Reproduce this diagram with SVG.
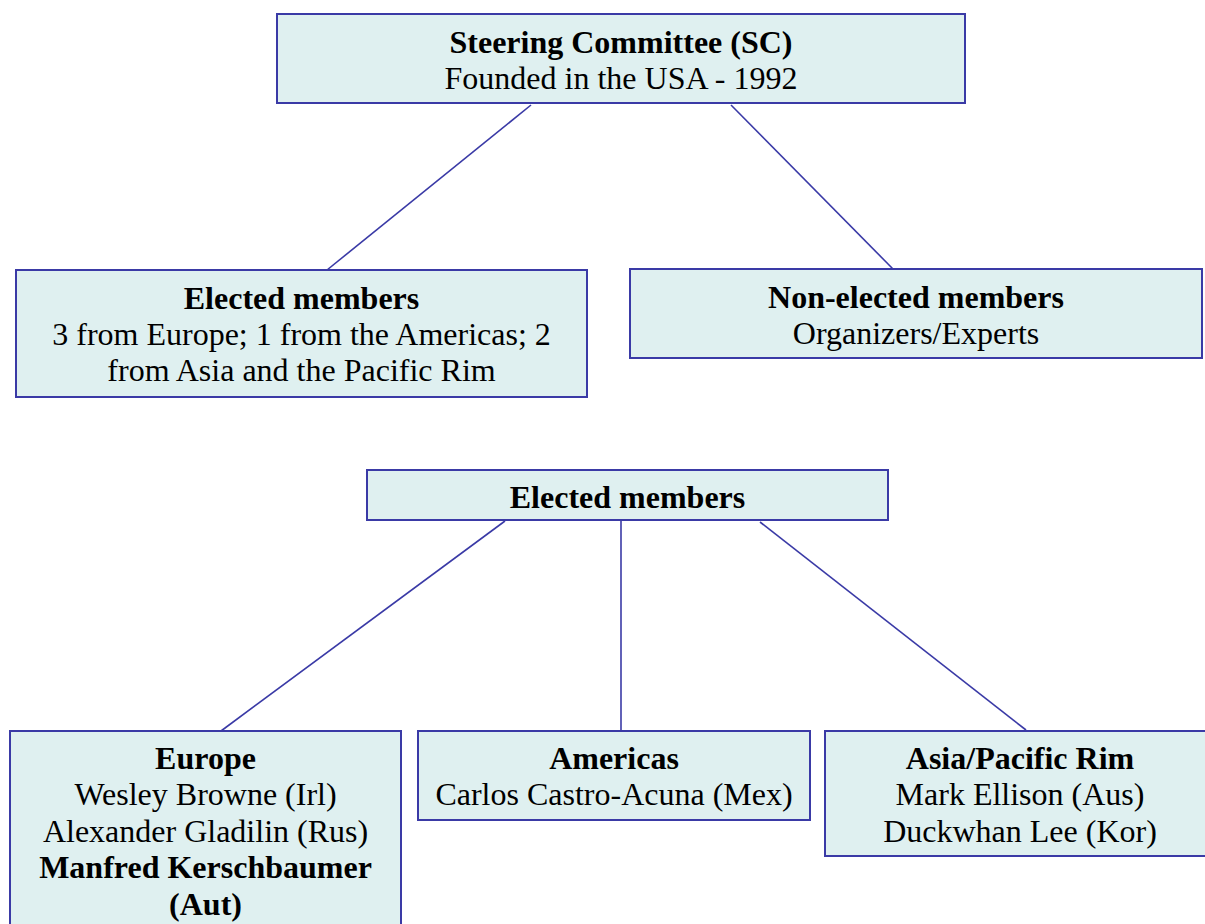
<svg xmlns="http://www.w3.org/2000/svg" width="1205" height="924" viewBox="0 0 1205 924">
<style>
.box{fill:#dff0f0;stroke:#3a3aa6;stroke-width:2}
.ln{stroke:#3a3aa6;stroke-width:1.6;fill:none}
text{font-family:"Liberation Serif","Times New Roman",serif;font-size:32px;fill:#000;text-anchor:middle}
.b{font-weight:bold}
</style>
<rect width="1205" height="924" fill="#fff"/>
<g id="connectors">
<line class="ln" x1="531" y1="105" x2="327" y2="270"/>
<line class="ln" x1="731" y1="105" x2="893" y2="269"/>
<line class="ln" x1="505" y1="521" x2="221" y2="731"/>
<line class="ln" x1="621" y1="521" x2="621" y2="731"/>
<line class="ln" x1="760" y1="522" x2="1026" y2="730"/>
</g>
<g id="sc">
<rect class="box" x="277" y="14" width="688" height="89"/>
<text x="621" y="53" class="b">Steering Committee (SC)</text>
<text x="621" y="89">Founded in the USA - 1992</text>
</g>
<g id="elected">
<rect class="box" x="16" y="270" width="571" height="127"/>
<text x="301.5" y="309" class="b">Elected members</text>
<text x="301.5" y="345">3 from Europe; 1 from the Americas; 2</text>
<text x="301.5" y="381">from Asia and the Pacific Rim</text>
</g>
<g id="nonelected">
<rect class="box" x="630" y="269" width="572" height="89"/>
<text x="916" y="308" class="b">Non-elected members</text>
<text x="916" y="344">Organizers/Experts</text>
</g>
<g id="elected2">
<rect class="box" x="367" y="470" width="521" height="50"/>
<text x="627.5" y="508" class="b">Elected members</text>
</g>
<g id="europe">
<rect class="box" x="10" y="731" width="391" height="200"/>
<text x="205.5" y="769" class="b">Europe</text>
<text x="205.5" y="805">Wesley Browne (Irl)</text>
<text x="205.5" y="842">Alexander Gladilin (Rus)</text>
<text x="205.5" y="878" class="b">Manfred Kerschbaumer</text>
<text x="205.5" y="915" class="b">(Aut)</text>
</g>
<g id="americas">
<rect class="box" x="418" y="731" width="392" height="89"/>
<text x="614" y="769" class="b">Americas</text>
<text x="614" y="805">Carlos Castro-Acuna (Mex)</text>
</g>
<g id="asia">
<rect class="box" x="825" y="731" width="390" height="125"/>
<text x="1020" y="769" class="b">Asia/Pacific Rim</text>
<text x="1020" y="805">Mark Ellison (Aus)</text>
<text x="1020" y="842">Duckwhan Lee (Kor)</text>
</g>
</svg>
